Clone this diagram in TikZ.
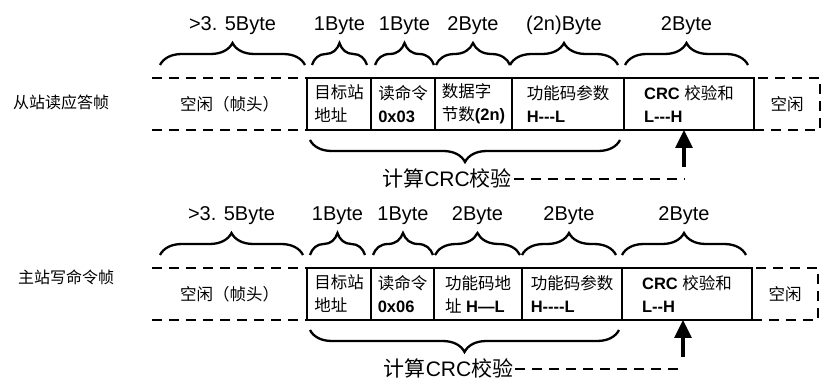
\documentclass[tikz,border=0pt]{standalone}
\usepackage{fontspec}
\setmainfont{Liberation Sans}
\newfontfamily\zhfont{Noto Sans CJK SC}
\newcommand{\zh}[1]{{\zhfont #1}}
\usetikzlibrary{positioning,arrows.meta,calc,decorations.pathreplacing}

\begin{document}
\begin{tikzpicture}[x=1pt, y=1pt,
  every node/.style={inner sep=1pt},
  field/.style={draw, line width=2.5pt, outer sep=0pt, minimum height=52pt,
                align=left, font=\fontsize{16.5}{23}\selectfont},
  gap/.style={outer sep=0pt, minimum height=52pt, font=\fontsize{16.5}{23}\selectfont},
  frame/.style={line width=2.5pt, dash pattern=on 10pt off 7pt},
  brace/.style={decorate, decoration={brace, amplitude=22pt}, line width=2.3pt},
  bytes/.style={font=\fontsize{20}{22}\selectfont},
  sumlabel/.style={font=\fontsize{21}{23}\selectfont},
  rowname/.style={font=\fontsize{16}{18}\selectfont, anchor=west},
  arr/.style={-{Triangle[length=18pt,width=17pt]}, line width=3.2pt},
  link/.style={line width=2pt, dash pattern=on 10pt off 7pt}
]
  \useasboundingbox (0,0) rectangle (822,380);

  % slave read reply frame
  \node[rowname] (row1) at (12,278) {\zh{从站读应答帧}};
  \node[field, minimum width=64pt, anchor=west] (adr1) at (307,276) {\zh{目标站}\\\zh{地址}};
  \node[field, minimum width=64pt, right=0pt of adr1] (cmd1) {\zh{读命令}\\\textbf{0x03}};
  \node[field, minimum width=77pt, right=0pt of cmd1] (len1) {\zh{数据字}\\\zh{节数}\textbf{(2n)}};
  \node[field, minimum width=112pt, right=0pt of len1] (par1) {\zh{功能码参数}\\\textbf{H-{}-{}-L}};
  \node[field, minimum width=130pt, right=0pt of par1] (crc1) {\textbf{CRC} \zh{校验和}\\\textbf{L-{}-{}-H}};
  \node[gap, minimum width=155pt, left=0pt of adr1] (head1) {\zh{空闲（帧头）}};
  \node[gap, draw, frame, minimum width=66pt, right=0pt of crc1] (tail1) {\zh{空闲}};
  \draw[frame] (head1.north west) -- (head1.north east);
  \draw[frame] (head1.south west) -- (head1.south east);

  \draw[brace] ([xshift=8pt,yshift=13pt]head1.north west) -- node[bytes, above=28pt] {>3. 5Byte} ([xshift=-2pt,yshift=13pt]head1.north east);
  \draw[brace] ([xshift=5pt,yshift=13pt]adr1.north west) -- node[bytes, above=28pt] {1Byte} ([xshift=-4pt,yshift=13pt]adr1.north east);
  \draw[brace] ([xshift=4pt,yshift=13pt]cmd1.north west) -- node[bytes, above=28pt] {1Byte} ([xshift=-1pt,yshift=13pt]cmd1.north east);
  \draw[brace] ([xshift=1pt,yshift=13pt]len1.north west) -- node[bytes, above=28pt] {2Byte} ([xshift=-2pt,yshift=13pt]len1.north east);
  \draw[brace] ([xshift=-2pt,yshift=13pt]par1.north west) -- node[bytes, above=28pt] {(2n)Byte} ([xshift=-6pt,yshift=13pt]par1.north east);
  \draw[brace] ([xshift=1pt,yshift=13pt]crc1.north west) -- node[bytes, above=28pt] {2Byte} ([xshift=-6pt,yshift=13pt]crc1.north east);

  \draw[brace, decoration={mirror}] ([xshift=3pt,yshift=-10pt]adr1.south west) -- node[sumlabel, below=27pt, xshift=-18pt] (sum1) {\zh{计算}CRC\zh{校验}} ([xshift=-4pt,yshift=-10pt]par1.south east);
  \coordinate (tip1) at ([xshift=-5pt]crc1.south);
  \draw[link] (sum1.east) -- (sum1.east -| tip1) coordinate (foot1);
  \draw[arr] ([yshift=12pt]foot1) -- (tip1);

  % master write command frame
  \node[rowname] (row2) at (17,103) {\zh{主站写命令帧}};
  \node[field, minimum width=64pt, anchor=west] (adr2) at (307,86) {\zh{目标站}\\\zh{地址}};
  \node[field, minimum width=63pt, right=0pt of adr2] (cmd2) {\zh{读命令}\\\textbf{0x06}};
  \node[field, minimum width=88pt, right=0pt of cmd2] (fad2) {\zh{功能码地}\\\zh{址} \textbf{H—L}};
  \node[field, minimum width=100pt, right=0pt of fad2] (par2) {\zh{功能码参数}\\\textbf{H-{}-{}-{}-L}};
  \node[field, minimum width=130pt, right=0pt of par2] (crc2) {\textbf{CRC} \zh{校验和}\\\textbf{L-{}-H}};
  \node[gap, minimum width=155pt, left=0pt of adr2] (head2) {\zh{空闲（帧头）}};
  \node[gap, draw, frame, minimum width=66pt, right=0pt of crc2] (tail2) {\zh{空闲}};
  \draw[frame] (head2.north west) -- (head2.north east);
  \draw[frame] (head2.south west) -- (head2.south east);

  \draw[brace] ([xshift=8pt,yshift=13pt]head2.north west) -- node[bytes, above=28pt] {>3. 5Byte} ([xshift=-4pt,yshift=13pt]head2.north east);
  \draw[brace] ([xshift=3pt,yshift=13pt]adr2.north west) -- node[bytes, above=28pt] {1Byte} ([xshift=-6pt,yshift=13pt]adr2.north east);
  \draw[brace] ([xshift=2pt,yshift=13pt]cmd2.north west) -- node[bytes, above=28pt] {1Byte} ([xshift=-1pt,yshift=13pt]cmd2.north east);
  \draw[brace] ([xshift=1pt,yshift=13pt]fad2.north west) -- node[bytes, above=28pt] {2Byte} ([xshift=-2pt,yshift=13pt]fad2.north east);
  \draw[brace] ([xshift=0pt,yshift=13pt]par2.north west) -- node[bytes, above=28pt] {2Byte} ([xshift=-6pt,yshift=13pt]par2.north east);
  \draw[brace] ([xshift=0pt,yshift=13pt]crc2.north west) -- node[bytes, above=28pt] {2Byte} ([xshift=-6pt,yshift=13pt]crc2.north east);

  \draw[brace, decoration={mirror}] ([xshift=3pt,yshift=-10pt]adr2.south west) -- node[sumlabel, below=27pt, xshift=-16pt] (sum2) {\zh{计算}CRC\zh{校验}} ([xshift=-3pt,yshift=-10pt]par2.south east);
  \coordinate (tip2) at ([xshift=-4pt]crc2.south);
  \draw[link] (sum2.east) -- (sum2.east -| tip2) coordinate (foot2);
  \draw[arr] ([yshift=12pt]foot2) -- (tip2);
\end{tikzpicture}
\end{document}
